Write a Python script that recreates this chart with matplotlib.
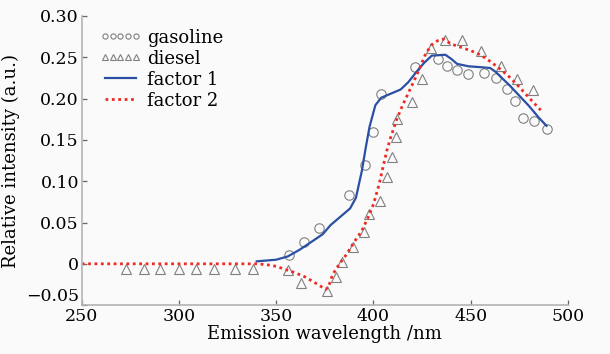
import matplotlib
matplotlib.use("Agg")
import matplotlib.pyplot as plt

plt.rcParams['font.family'] = ['DejaVu Serif']
plt.rcParams['mathtext.fontset'] = 'dejavuserif'

# Measured spectra
gasoline_x = [356.6, 364.3, 371.8, 387.6, 395.5, 400.0, 403.8, 421.3, 433.0, 437.6,
              442.9, 448.8, 456.8, 462.9, 468.5, 472.6, 476.7, 482.5, 489.0]
gasoline_y = [0.0105, 0.026, 0.0436, 0.083, 0.1195, 0.159, 0.2055, 0.2386, 0.248, 0.240,
              0.234, 0.230, 0.2306, 0.2245, 0.211, 0.197, 0.176, 0.173, 0.163]

diesel_x = [272.6, 281.9, 290.5, 300.0, 308.6, 317.9, 328.9, 338.1, 355.9, 362.6,
            376.0, 380.7, 383.6, 389.4, 395.2, 397.5, 403.3, 407.2, 409.5, 411.7,
            412.3, 419.7, 425.1, 429.4, 436.7, 445.7, 455.1, 465.5, 473.6, 482.2]
diesel_y = [-0.0068, -0.0068, -0.0068, -0.0068, -0.0068, -0.0068, -0.0068, -0.0068, -0.0076, -0.0237,
            -0.0325, -0.0165, 0.0022, 0.020, 0.038, 0.060, 0.0763, 0.1046, 0.1296, 0.154,
            0.1757, 0.1955, 0.2237, 0.2616, 0.2705, 0.2705, 0.2576, 0.240, 0.2233, 0.210]

# Resolved factors
factor1_x = [340, 350, 356, 362, 369, 374, 378, 383, 388, 391, 394, 396, 398, 401, 404,
             408, 414, 418, 422, 426, 430, 437, 440, 443, 449, 455, 460, 463, 466, 470,
             474, 480, 485, 489]
factor1_y = [0.003, 0.005, 0.009, 0.017, 0.028, 0.036, 0.047, 0.057, 0.067, 0.080, 0.112,
             0.140, 0.166, 0.192, 0.201, 0.205, 0.211, 0.220, 0.232, 0.243, 0.252, 0.253,
             0.248, 0.242, 0.239, 0.238, 0.237, 0.232, 0.225, 0.216, 0.206, 0.191, 0.177,
             0.167]

factor2_x = [250, 300, 340, 345, 350, 355, 360, 365, 370, 375.5, 377, 379, 382, 386, 390,
             394, 397, 400, 403, 405, 407, 409, 412, 415, 418, 421, 424, 427, 430, 433,
             436, 440, 445, 450, 455, 460, 465, 470, 475, 480, 486]
factor2_y = [0.0, 0.0, 0.0, -0.001, -0.003, -0.007, -0.011, -0.016, -0.023, -0.031, -0.027,
             -0.013, -0.002, 0.011, 0.026, 0.040, 0.055, 0.072, 0.097, 0.118, 0.138, 0.154,
             0.175, 0.192, 0.207, 0.222, 0.238, 0.255, 0.265, 0.270, 0.272, 0.266, 0.262,
             0.258, 0.253, 0.245, 0.236, 0.226, 0.214, 0.201, 0.186]

xticks = [250, 300, 350, 400, 450, 500]
yticks = [-0.05, 0, 0.05, 0.10, 0.15, 0.20, 0.25, 0.30]
ytick_labels = ['\u22120.05', '0', '0.05', '0.10', '0.15', '0.20', '0.25', '0.30']

bg = '#fafafa'
fig = plt.figure(figsize=(6.1, 3.54), dpi=100, facecolor=bg)
ax = fig.add_axes([0.134, 0.138, 0.797, 0.817], facecolor=bg)

ax.plot(gasoline_x, gasoline_y, linestyle='none', marker='o', markersize=6.8,
        markerfacecolor='none', markeredgecolor='#808080', markeredgewidth=0.8,
        label='gasoline')
ax.plot(diesel_x, diesel_y, linestyle='none', marker='^', markersize=7,
        markerfacecolor='none', markeredgecolor='#808080', markeredgewidth=0.8,
        label='diesel')
ax.plot(factor1_x, factor1_y, color='#2a4fa3', linewidth=1.6, label='factor 1')
ax.plot(factor2_x, factor2_y, color='#ee2a22', linewidth=2.0, linestyle=(0, (1, 1.3)),
        label='factor 2')

ax.set_xlim(250, 500)
ax.set_ylim(-0.05, 0.30)
ax.set_xticks(xticks)
ax.set_yticks(yticks)
ax.set_yticklabels(ytick_labels)
# lowest y label sits on top of its tick, clear of the first x label
ax.get_yticklabels()[0].set_verticalalignment('bottom')

for side in ('top', 'right'):
    ax.spines[side].set_visible(False)
for side in ('left', 'bottom'):
    ax.spines[side].set_color('#b4b4b4')
    ax.spines[side].set_linewidth(1.2)
ax.tick_params(direction='in', length=3.5, width=0.9, color='#666666',
               labelsize=12.5, pad=2)

ax.set_xlabel('Emission wavelength /nm', fontsize=13, labelpad=0)
ax.set_ylabel('Relative intensity (a.u.)', fontsize=13, labelpad=4)

leg = ax.legend(loc='upper left', bbox_to_anchor=(0.01, 1.0), numpoints=5,
                frameon=False, fontsize=13, handlelength=2.35, handletextpad=0.3,
                labelspacing=0.17, borderaxespad=0.3, markerscale=0.55)

fig.savefig('out.png', dpi=100, facecolor=bg)
